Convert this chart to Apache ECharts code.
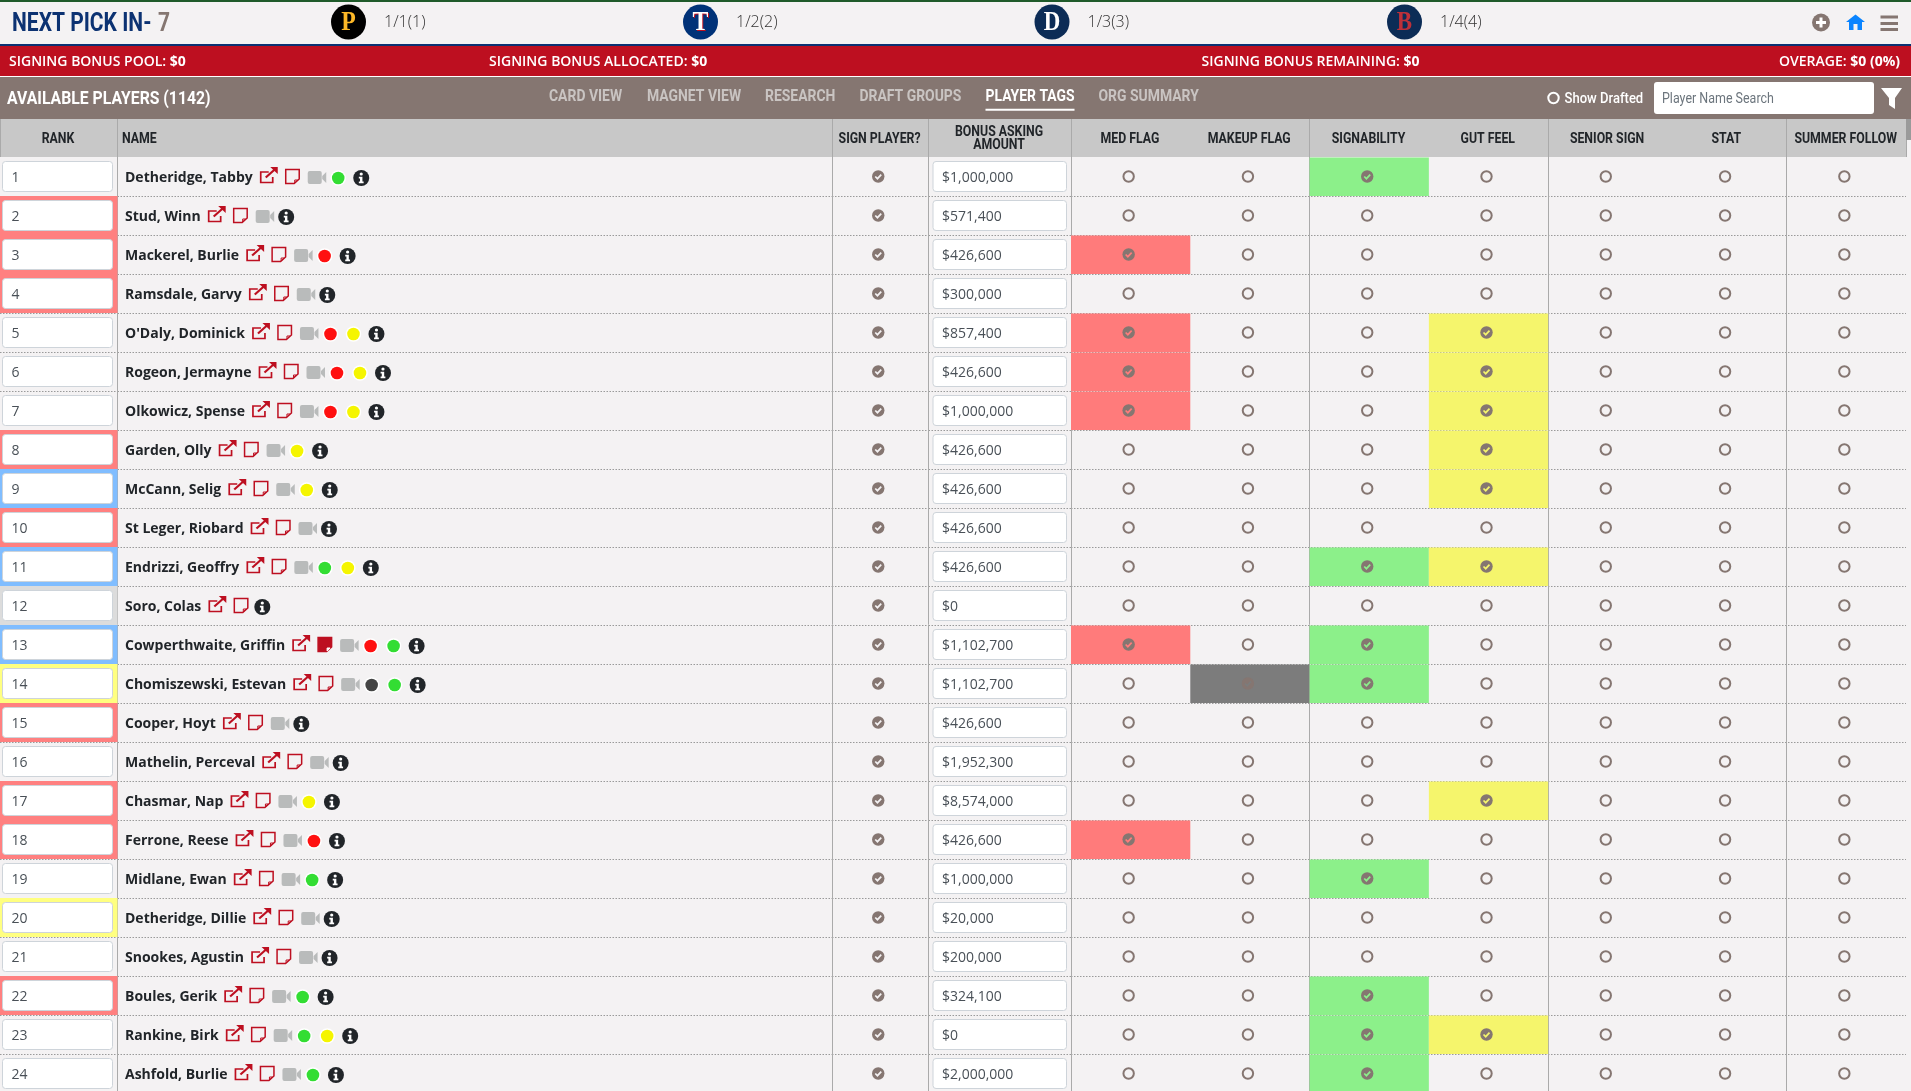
<!DOCTYPE html>
<html lang="en">
<head>
    <meta charset="UTF-8">
    <title>Available Players</title>
    <script src="https://cdn.jsdelivr.net/npm/echarts@6/dist/echarts.min.js"></script>
    <style>
        html, body {margin: 0; padding: 0; width: 100%; height: 100%; overflow: hidden;}
        #main {width: 1911px; height: 1091px;}
    </style>
</head>
<body>
<div id="main"></div>
<script>
    // table data
    var ranks = [1, 2, 3, 4, 5, 6, 7, 8, 9, 10, 11, 12, 13, 14, 15, 16, 17, 18, 19, 20, 21, 22, 23, 24];
    var names = ['Detheridge, Tabby', 'Stud, Winn', 'Mackerel, Burlie', 'Ramsdale, Garvy', "O'Daly, Dominick", 'Rogeon, Jermayne',
        'Olkowicz, Spense', 'Garden, Olly', 'McCann, Selig', 'St Leger, Riobard', 'Endrizzi, Geoffry', 'Soro, Colas',
        'Cowperthwaite, Griffin', 'Chomiszewski, Estevan', 'Cooper, Hoyt', 'Mathelin, Perceval', 'Chasmar, Nap', 'Ferrone, Reese',
        'Midlane, Ewan', 'Detheridge, Dillie', 'Snookes, Agustin', 'Boules, Gerik', 'Rankine, Birk', 'Ashfold, Burlie'];
    var bonus = [1000000, 571400, 426600, 300000, 857400, 426600, 1000000, 426600, 426600, 426600, 426600, 0,
        1102700, 1102700, 426600, 1952300, 8574000, 426600, 1000000, 20000, 200000, 324100, 0, 2000000];
    var rankTags = ['', 'red', 'red', 'red', '', '', '', 'red', 'blue', 'red', 'blue', 'grey',
        'blue', 'yellow', 'red', '', 'red', 'red', '', 'yellow', '', 'red', '', ''];
    var signPlayer = [1, 1, 1, 1, 1, 1, 1, 1, 1, 1, 1, 1, 1, 1, 1, 1, 1, 1, 1, 1, 1, 1, 1, 1];
    var medFlag = [0, 0, 1, 0, 1, 1, 1, 0, 0, 0, 0, 0, 1, 0, 0, 0, 0, 1, 0, 0, 0, 0, 0, 0];
    var makeupFlag = [0, 0, 0, 0, 0, 0, 0, 0, 0, 0, 0, 0, 0, 1, 0, 0, 0, 0, 0, 0, 0, 0, 0, 0];
    var signability = [1, 0, 0, 0, 0, 0, 0, 0, 0, 0, 1, 0, 1, 1, 0, 0, 0, 0, 1, 0, 0, 1, 1, 1];
    var gutFeel = [0, 0, 0, 0, 1, 1, 1, 1, 1, 0, 1, 0, 0, 0, 0, 0, 1, 0, 0, 0, 0, 0, 1, 0];
    var seniorSign = [0, 0, 0, 0, 0, 0, 0, 0, 0, 0, 0, 0, 0, 0, 0, 0, 0, 0, 0, 0, 0, 0, 0, 0];
    var stat = [0, 0, 0, 0, 0, 0, 0, 0, 0, 0, 0, 0, 0, 0, 0, 0, 0, 0, 0, 0, 0, 0, 0, 0];
    var summerFollow = [0, 0, 0, 0, 0, 0, 0, 0, 0, 0, 0, 0, 0, 0, 0, 0, 0, 0, 0, 0, 0, 0, 0, 0];
    var noVideo = [12];
    var filledNote = [13];
    var tagColumns = ['MED FLAG', 'MAKEUP FLAG', 'SIGNABILITY', 'GUT FEEL', 'SENIOR SIGN', 'STAT', 'SUMMER FOLLOW'];
    var tagValues = [medFlag, makeupFlag, signability, gutFeel, seniorSign, stat, summerFollow];
    var navItems = ['CARD VIEW', 'MAGNET VIEW', 'RESEARCH', 'DRAFT GROUPS', 'PLAYER TAGS', 'ORG SUMMARY'];
    var picks = ['1/1(1)', '1/2(2)', '1/3(3)', '1/4(4)'];
    var headerCols = [['RANK'], ['NAME'], ['SIGN PLAYER?'], ['BONUS ASKING\nAMOUNT'], tagColumns];

    // look
    var BROWN = '#857671', RED = '#bd0f20', NAVY = '#0c3272', PAGE = '#f4f2f3', INK = '#212529';
    var SANS = '"Open Sans", sans-serif';
    var CONDENSED = 'Roboto, sans-serif';
    var rankColors = {red: '#ff8080', blue: '#80bdff', yellow: '#ffff80', grey: '#dcdcdc'};
    var tagColors = ['#ff7b7b', '#7c7c7c', '#8cf08a', '#f5f56c'];
    var dotColors = ['#ff1010', '#444444', '#33dd33', '#f5f500'];
    var rowH = 39, tableTop = 157;
    var grids = [[0, 117.5], [117.5, 714.5], [832, 96.5], [928.5, 142.5], [1071, 835]];

    var ctx = document.createElement('canvas').getContext('2d');
    var NAME_FONT = 'bold 14px "Open Sans"';
    ctx.font = NAME_FONT;

    function money(v) {
        return '$' + v.toLocaleString('en-US');
    }

    function tagIcon(x, y, on, cellColor) {
        if (!on) {
            return {type: 'circle', shape: {cx: x, cy: y, r: 5.2}, style: {fill: 'none', stroke: BROWN, lineWidth: 2}};
        }
        return {
            type: 'group', x: x, y: y, children: [
                {type: 'circle', shape: {cx: 0, cy: 0, r: 6.2}, style: {fill: BROWN}},
                {type: 'polyline', shape: {points: [[-3, 0], [-0.8, 2.2], [3, -1.8]]}, style: {fill: null, stroke: cellColor, lineWidth: 1.7}}
            ]
        };
    }

    function inputBox(x, y, w, text) {
        return [
            {type: 'rect', shape: {x: x, y: y + 4.5, width: w, height: 30, r: 3}, style: {fill: '#fff', stroke: '#ced4da', lineWidth: 1}},
            {type: 'text', x: x + 9, y: y + 21, style: {text: text, fill: '#495057', font: '14px ' + SANS, verticalAlign: 'middle'}}
        ];
    }

    // one row of the name column: name, then the icons that follow it
    function renderName(params, api) {
        var i = api.value(1);
        var c = api.coord([0, i]);
        var x = Math.round(c[0] - api.size([1, 1])[0] / 2) + 7;
        var y = c[1] + 1.5;
        var name = names[i];
        var end = x + ctx.measureText(name).width - 1;
        var red = RED;
        var kids = [{type: 'text', x: x, y: y + 0.5, style: {text: name, fill: INK, font: NAME_FONT, verticalAlign: 'middle'}}];
        // link
        kids.push({
            type: 'group', x: end + 8, y: y - 11, children: [
                {type: 'polyline', shape: {points: [[9, 5], [1, 5], [1, 15.5], [13, 15.5], [13, 10]]}, style: {fill: null, stroke: red, lineWidth: 1.7}},
                {type: 'line', shape: {x1: 6, y1: 10.5, x2: 15, y2: 2.5}, style: {stroke: red, lineWidth: 2.2}},
                {type: 'polygon', shape: {points: [[10.5, 0], [18, 0], [18, 7]]}, style: {fill: red}}
            ]
        });
        // note
        var full = filledNote.indexOf(ranks[i]) >= 0;
        kids.push({
            type: 'group', x: end + 33, y: y - 9, children: [
                {type: 'polygon', shape: {points: [[1, 0.5], [14.5, 0.5], [14.5, 10], [9.5, 14.5], [1, 14.5]]}, style: {fill: full ? red : 'none', stroke: red, lineWidth: 1.5}},
                {type: 'polygon', shape: {points: [[10, 11], [13, 11], [10, 14]]}, style: {fill: full ? '#fff' : 'none', stroke: full ? '#fff' : red, lineWidth: 1}}
            ]
        });
        var cursor = end + 74;
        // video
        if (noVideo.indexOf(ranks[i]) < 0) {
            kids.push({
                type: 'group', x: end + 56, y: y - 7, children: [
                    {type: 'rect', shape: {x: 0, y: 0, width: 14, height: 13, r: 2}, style: {fill: '#b9bbbb'}},
                    {type: 'polygon', shape: {points: [[14.5, 5], [18.5, 1], [18.5, 12], [14.5, 8]]}, style: {fill: '#b9bbbb'}}
                ]
            });
        } else {
            cursor = end + 49.5;
        }
        cursor += 12.5;
        // one dot per coloured flag
        for (var t = 0; t < 4; t++) {
            if (tagValues[t][i]) {
                kids.push({type: 'circle', shape: {cx: cursor, cy: y, r: 7.8}, style: {fill: '#fff'}});
                kids.push({type: 'circle', shape: {cx: cursor, cy: y, r: 6.3}, style: {fill: dotColors[t]}});
                cursor += 23;
            }
        }
        // info
        kids.push({
            type: 'group', x: cursor, y: y, children: [
                {type: 'circle', shape: {cx: 0, cy: 0, r: 8}, style: {fill: INK}},
                {type: 'circle', shape: {cx: 0, cy: -4, r: 1.6}, style: {fill: '#fff'}},
                {type: 'polygon', shape: {points: [[-2.4, -1.2], [1.2, -1.2], [1.2, 3.6], [2.4, 3.6], [2.4, 5.2], [-2.4, 5.2], [-2.4, 3.6], [-1.2, 3.6], [-1.2, 0.4], [-2.4, 0.4]]}, style: {fill: '#fff'}}
            ]
        });
        return {type: 'group', children: kids};
    }

    function renderRank(params, api) {
        var i = api.value(1);
        var c = api.coord([0, i]);
        var s = api.size([1, 1]);
        var left = c[0] - s[0] / 2, top = c[1] - s[1] / 2;
        var kids = [];
        if (rankTags[i]) {
            kids.push({type: 'rect', shape: {x: left, y: top, width: s[0], height: s[1]}, style: {fill: rankColors[rankTags[i]]}});
        }
        return {type: 'group', children: kids.concat(inputBox(left + 2.5, top, 110, String(ranks[i])))};
    }

    function renderSign(params, api) {
        var i = api.value(1);
        var c = api.coord([0, i]);
        return tagIcon(c[0] - 2, c[1], signPlayer[i], PAGE);
    }

    function renderBonus(params, api) {
        var i = api.value(1);
        var c = api.coord([0, i]);
        var s = api.size([1, 1]);
        return {type: 'group', children: inputBox(c[0] - s[0] / 2 + 4.5, c[1] - s[1] / 2, 133.5, money(bonus[i]))};
    }

    function renderTag(params, api) {
        var j = api.value(0), i = api.value(1);
        var c = api.coord([j, i]);
        var s = api.size([1, 1]);
        var on = tagValues[j][i];
        var cell = on && tagColors[j] ? tagColors[j] : PAGE;
        var kids = [];
        if (on) {
            kids.push({type: 'rect', shape: {x: c[0] - s[0] / 2, y: c[1] - s[1] / 2 + 0.5, width: s[0], height: s[1] - 0.5}, style: {fill: cell}});
        }
        kids.push(tagIcon(c[0] - 2, c[1], on, cell));
        return {type: 'group', children: kids};
    }

    // the site uses a condensed face that is not installed, so Roboto is squeezed
    function renderHeader(g) {
        return function (params, api) {
            var j = api.value(0);
            var c = api.coord([j, 0]);
            var s = api.size([1, 1]);
            var isName = headerCols[g][j] === 'NAME';
            return {
                type: 'text', x: isName ? c[0] - s[0] / 2 + 4.5 : c[0] - 0.7, y: tableTop - 18, scaleX: 0.82,
                style: {text: headerCols[g][j], fill: INK, font: 'bold 15px ' + CONDENSED, lineHeight: 13, align: isName ? 'left' : 'center', verticalAlign: 'middle'}
            };
        };
    }

    function rowPoints() {
        return ranks.map(function (r, i) { return [0, i]; });
    }

    var tagPoints = [];
    tagColumns.forEach(function (t, j) {
        ranks.forEach(function (r, i) { tagPoints.push([j, i]); });
    });

    var xAxes = headerCols.map(function (cols, g) {
        return {
            type: 'category', gridIndex: g, position: 'top', data: cols,
            axisLine: {show: false},
            axisTick: {show: true, length: 38, lineStyle: {color: '#aaaaaa'}},
            axisLabel: {show: false},
            splitLine: {show: true, showMaxLine: false, showMinLine: g > 0, lineStyle: {color: '#aaaaaa'}}
        };
    });

    var yAxes = grids.map(function (g, idx) {
        return {
            type: 'category', gridIndex: idx, inverse: true, data: ranks,
            axisLine: {show: false}, axisTick: {show: false}, axisLabel: {show: false},
            splitLine: {show: true, interval: 0, showMinLine: false, lineStyle: {color: '#9a9a9a', type: [1.5, 1.5], width: 1}}
        };
    });

    function customSeries(g, render, points) {
        return {type: 'custom', xAxisIndex: g, yAxisIndex: g, renderItem: render, data: points, encode: {x: 0, y: 1}, animation: false, silent: true, clip: false};
    }

    // page furniture around the table
    function bar(x, y, w, h, fill, z) {
        return {type: 'rect', z: z === undefined ? -1 : z, shape: {x: x, y: y, width: w, height: h}, style: {fill: fill}};
    }

    function txt(x, y, text, font, fill, align, squeeze) {
        return {type: 'text', x: x, y: y, scaleX: squeeze || 1, style: {text: text, font: font, fill: fill, align: align || 'left', verticalAlign: 'middle'}};
    }

    // white bar text: label in semi-bold, amount in bold
    function money2(x, label, amount, align) {
        return {
            type: 'text', x: x, y: 62,
            style: {
                text: '{a|' + label + '}{b|' + amount + '}', align: align || 'left', verticalAlign: 'middle',
                rich: {a: {font: '600 14px ' + SANS, fill: '#fff'}, b: {font: 'bold 14px ' + SANS, fill: '#fff'}}
            }
        };
    }

    var pickX = [348.5, 700.5, 1052, 1404.5];
    var logos = [
        {bg: '#000000', letter: 'P', color: '#fdb827', font: 'bold 28px "Liberation Serif"'},
        {bg: '#003278', letter: 'T', color: '#ffffff', font: 'bold 28px "Liberation Serif"', shade: '#c0111f'},
        {bg: '#0c2c56', letter: 'D', color: '#ffffff', font: 'bold 27px "Liberation Serif"'},
        {bg: '#0c2c56', letter: 'B', color: '#bd3039', font: 'bold 27px "Liberation Serif"'}
    ];
    var elements = [
        bar(0, 0, 1911, 2, '#1f5a2a'),
        bar(0, 44, 1911, 2, NAVY),
        bar(0, 46, 1911, 30, RED),
        bar(0, 76, 1911, 1, '#ffffff'),
        bar(0, 77, 1911, 42, BROWN),
        bar(0, 119, 1906, 38, '#c8c8c8'),
        bar(1906, 119, 5, 21, '#9a9a9a', 2),
        txt(12, 25, 'NEXT PICK IN-', 'bold 25px ' + CONDENSED, NAVY, 'left', 0.84),
        txt(158, 25, '7', 'bold 25px ' + CONDENSED, BROWN, 'left', 0.84),
        money2(9, 'SIGNING BONUS POOL: ', '$0'),
        money2(489, 'SIGNING BONUS ALLOCATED: ', '$0'),
        money2(1201.5, 'SIGNING BONUS REMAINING: ', '$0'),
        money2(1900, 'OVERAGE: ', '$0 (0%)', 'right'),
        txt(7, 99, 'AVAILABLE PLAYERS (1142)', 'bold 19px ' + CONDENSED, '#fff', 'left', 0.83)
    ];
    picks.forEach(function (p, k) {
        elements.push({type: 'circle', shape: {cx: pickX[k], cy: 22, r: 17.5}, style: {fill: logos[k].bg}});
        if (logos[k].shade) {
            elements.push({type: 'text', x: pickX[k] + 1, y: 24, scaleX: 0.85, style: {text: logos[k].letter, font: logos[k].font, fill: logos[k].shade, align: 'center', verticalAlign: 'middle'}});
        }
        elements.push({type: 'text', x: pickX[k], y: 23, scaleX: 0.85, style: {text: logos[k].letter, font: logos[k].font, fill: logos[k].color, align: 'center', verticalAlign: 'middle'}});
        elements.push(txt(pickX[k] + 35.5, 22, p, '300 16px ' + SANS, '#333'));
    });
    var navX = [549, 647, 765, 859.5, 985.5, 1098.5];
    navItems.forEach(function (n, k) {
        elements.push(txt(navX[k], 97, n, 'bold 16px ' + CONDENSED, n === 'PLAYER TAGS' ? '#ffffff' : '#c9c4c2', 'left', 0.87));
    });
    elements.push(bar(985.5, 108.7, 89, 2, '#ffffff', 1));
    elements.push({type: 'circle', shape: {cx: 1553.5, cy: 98, r: 5.2}, style: {fill: 'none', stroke: '#fff', lineWidth: 2}});
    elements.push(txt(1564.5, 99, 'Show Drafted', '500 15px ' + CONDENSED, '#fff', 'left', 0.87));
    elements.push({type: 'rect', shape: {x: 1654, y: 82, width: 220, height: 32, r: 3}, style: {fill: '#fff'}});
    elements.push(txt(1662, 99, 'Player Name Search', '14px ' + CONDENSED, '#6c757d', 'left', 0.89));
    elements.push({type: 'polygon', shape: {points: [[1881, 88], [1902, 88], [1895, 98], [1895, 109], [1889, 105], [1889, 98]]}, style: {fill: '#fff'}});
    // plus, home, menu
    elements.push({type: 'circle', shape: {cx: 1821, cy: 22.5, r: 9}, style: {fill: BROWN}});
    elements.push(bar(1816, 21, 10, 3, '#fff', 1));
    elements.push(bar(1819.5, 17.5, 3, 10, '#fff', 1));
    elements.push({type: 'polygon', shape: {points: [[1846, 22], [1855.5, 14.5], [1865, 22], [1862, 22], [1862, 30], [1857.5, 30], [1857.5, 24], [1853.5, 24], [1853.5, 30], [1849, 30], [1849, 22]]}, style: {fill: '#0a84ff'}});
    elements.push(bar(1880.5, 15.5, 17.5, 3, BROWN));
    elements.push(bar(1880.5, 22, 17.5, 3, BROWN));
    elements.push(bar(1880.5, 28, 17.5, 3, BROWN));

    var headerSeries = headerCols.map(function (cols, g) {
        return customSeries(g, renderHeader(g), cols.map(function (c, j) { return [j, 0]; }));
    });

    var myChart = echarts.init(document.getElementById('main'));
    myChart.setOption({
        backgroundColor: PAGE,
        animation: false,
        tooltip: {show: false},
        graphic: {elements: elements},
        grid: grids.map(function (g) {
            // taller than the page on purpose: row 24 runs off the bottom
            return {left: g[0], width: g[1], top: tableTop, height: rowH * ranks.length, outerBoundsMode: 'none'};
        }),
        xAxis: xAxes,
        yAxis: yAxes,
        series: [
            customSeries(0, renderRank, rowPoints()),
            customSeries(1, renderName, rowPoints()),
            customSeries(2, renderSign, rowPoints()),
            customSeries(3, renderBonus, rowPoints()),
            customSeries(4, renderTag, tagPoints)
        ].concat(headerSeries)
    });
</script>
</body>
</html>
